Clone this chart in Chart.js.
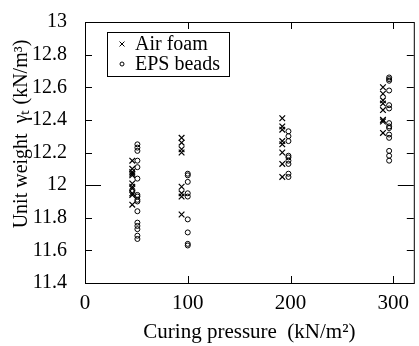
<!DOCTYPE html>
<html>
<head>
<meta charset="utf-8">
<script src="https://cdn.jsdelivr.net/npm/chart.js@4/dist/chart.umd.min.js"></script>
<style>
  html, body { margin: 0; padding: 0; background: #fff; }
  #wrap { width: 419px; height: 346px; }
</style>
</head>
<body>
<div id="wrap"><canvas id="unitWeightChart" width="419" height="346"></canvas></div>
<script>
// curing pressure groups (kN/m2) - the two series are plotted slightly apart
const airFoamX = [46, 94, 192, 290];
const epsBeadsX = [51, 100, 198, 296];

// unit weight readings (kN/m3), one list per pressure group
const airFoamY = [
  [12.15, 12.10, 12.08, 12.07, 12.06, 12.01, 11.99, 11.98, 11.95, 11.94, 11.88],
  [12.29, 12.26, 12.22, 12.20, 11.99, 11.95, 11.93, 11.82],
  [12.41, 12.36, 12.34, 12.27, 12.25, 12.20, 12.13, 12.05],
  [12.60, 12.56, 12.52, 12.50, 12.46, 12.40, 12.39, 12.32]
];
const epsBeadsY = [
  [12.25, 12.23, 12.21, 12.15, 12.11, 12.04, 11.94, 11.93, 11.91, 11.90, 11.84, 11.77, 11.75, 11.73, 11.69, 11.67],
  [12.07, 12.06, 12.02, 11.95, 11.93, 11.79, 11.71, 11.64, 11.63],
  [12.33, 12.30, 12.27, 12.18, 12.17, 12.15, 12.13, 12.07, 12.05],
  [12.66, 12.65, 12.64, 12.58, 12.49, 12.47, 12.38, 12.36, 12.35, 12.31, 12.29, 12.21, 12.18, 12.15]
];

const seriesLabels = ['Air foam', 'EPS beads'];
const xTicks = [0, 100, 200, 300];
const yTitle = 'Unit weight  γₜ (kN/m³)';

const serif = "'Liberation Serif', 'Times New Roman', serif";

function toPoints(xs, ys) {
  const pts = [];
  xs.forEach((x, i) => ys[i].forEach(y => pts.push({x: x, y: y})));
  return pts;
}

Chart.defaults.font.family = serif;
Chart.defaults.color = '#000';

// frame, inward tick marks, y title and the boxed legend
const framePlugin = {
  id: 'frame',
  afterDraw(chart) {
    const ctx = chart.ctx;
    const a = chart.chartArea;
    const xs = chart.scales.x, ys = chart.scales.y;
    ctx.save();
    ctx.strokeStyle = '#000';
    ctx.lineWidth = 1;
    ctx.strokeRect(a.left + 0.5, a.top + 0.5, a.right - a.left, a.bottom - a.top);
    ctx.beginPath();
    xs.ticks.forEach(t => {
      const px = Math.round(xs.getPixelForValue(t.value)) + 0.5;
      if (px <= a.left + 1 || px >= a.right - 1) return;
      ctx.moveTo(px, a.bottom); ctx.lineTo(px, a.bottom - 7);
      ctx.moveTo(px, a.top); ctx.lineTo(px, a.top + 7);
    });
    ys.ticks.forEach(t => {
      const py = Math.round(ys.getPixelForValue(t.value)) + 0.5;
      if (py <= a.top + 1 || py >= a.bottom - 1) return;
      const len = Math.abs(t.value - Math.round(t.value)) < 1e-6 ? 16 : 7;
      ctx.moveTo(a.left, py); ctx.lineTo(a.left + len, py);
      ctx.moveTo(a.right, py); ctx.lineTo(a.right - len, py);
    });
    ctx.stroke();

    ctx.fillStyle = '#000';

    // y axis title, a little above the middle like the original
    ctx.save();
    ctx.translate(22, 134);
    ctx.rotate(-Math.PI / 2);
    ctx.font = '20px ' + serif;
    ctx.textAlign = 'center';
    ctx.textBaseline = 'middle';
    ctx.fillText(yTitle, 0, 0);
    ctx.restore();

    // legend box
    const bx = 107, by = 32, bw = 122, bh = 44;
    ctx.strokeRect(bx + 0.5, by + 0.5, bw, bh);
    ctx.font = '20px ' + serif;
    ctx.textBaseline = 'middle';
    chart.data.datasets.forEach((ds, i) => {
      const cy = by + 12 + i * 20;
      ctx.fillStyle = 'rgba(0,0,0,0)';
      Chart.helpers.drawPoint(ctx, {
        pointStyle: ds.pointStyle, radius: ds.pointRadius - 0.5,
        borderWidth: ds.borderWidth, rotation: 0
      }, bx + 15, cy);
      ctx.fillStyle = '#000';
      ctx.fillText(ds.label, bx + 28, cy + 1);
    });
    ctx.restore();
  }
};

new Chart(document.getElementById('unitWeightChart'), {
  type: 'scatter',
  data: {
    datasets: [{
      label: seriesLabels[0],
      data: toPoints(airFoamX, airFoamY),
      pointStyle: 'crossRot',
      pointRadius: 4,
      borderColor: '#000',
      backgroundColor: '#000',
      borderWidth: 1.2
    }, {
      label: seriesLabels[1],
      data: toPoints(epsBeadsX, epsBeadsY),
      pointStyle: 'circle',
      pointRadius: 2.5,
      borderColor: '#000',
      backgroundColor: 'rgba(0,0,0,0)',
      borderWidth: 1
    }]
  },
  options: {
    responsive: false,
    animation: false,
    layout: {
      padding: { top: 15, right: 3, left: 0, bottom: 0 }
    },
    scales: {
      x: {
        type: 'linear',
        min: 0,
        max: 320,
        grid: { display: false },
        border: { display: false },
        afterBuildTicks: scale => {
          scale.ticks = xTicks.map(v => ({value: v}));
        },
        afterFit: scale => { scale.height = 63; },
        ticks: {
          padding: 0,
          maxRotation: 0,
          font: { size: 21 }
        },
        title: {
          display: true,
          text: 'Curing pressure  (kN/m²)',
          font: { size: 21 },
          padding: { top: 0, bottom: 1 }
        }
      },
      y: {
        min: 11.4,
        max: 13,
        grid: { display: false },
        border: { display: false },
        afterFit: scale => { scale.width = 85; },
        ticks: {
          stepSize: 0.2,
          padding: 10,
          font: { size: 20 },
          callback: value => String(+value.toFixed(1))
        }
      }
    },
    plugins: {
      legend: { display: false },
      tooltip: { enabled: false }
    }
  },
  plugins: [framePlugin]
});
</script>
</body>
</html>
